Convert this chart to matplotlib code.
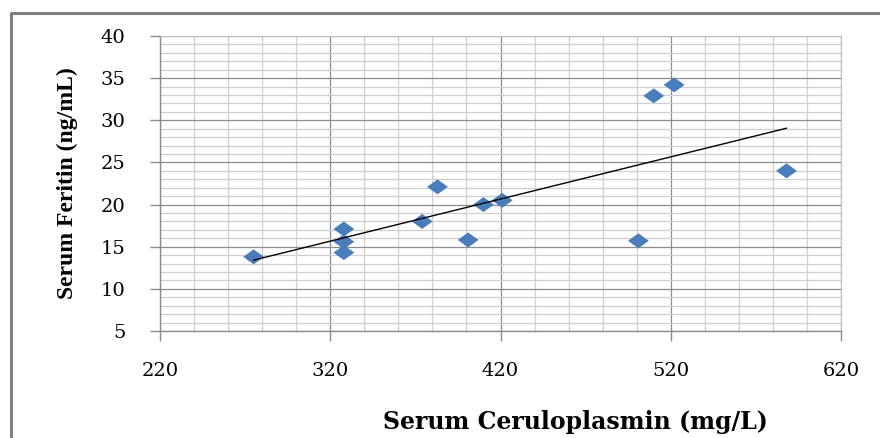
import numpy as np
import matplotlib.pyplot as plt
from matplotlib.lines import Line2D
from matplotlib.path import Path
from matplotlib.ticker import MultipleLocator

# serum ceruloplasmin (mg/L) vs serum ferritin (ng/mL)
ceruloplasmin = [275, 328, 328, 328, 374, 383, 401, 410, 421, 501, 510, 522, 588]
ferritin = [13.8, 17.1, 15.6, 14.3, 18.0, 22.1, 15.8, 20.0, 20.5, 15.7, 32.9, 34.2, 24.0]

x_ticks = [220, 320, 420, 520, 620]
y_ticks = [5, 10, 15, 20, 25, 30, 35, 40]

blue = '#4a7ebb'
tick_font = 'DejaVu Serif'
label_font = 'Liberation Serif'

# Excel-style wide diamond
diamond = Path([(-1, 0), (0, 0.72), (1, 0), (0, -0.72), (-1, 0)],
               [Path.MOVETO, Path.LINETO, Path.LINETO, Path.LINETO, Path.CLOSEPOLY])

fig = plt.figure(figsize=(8.8, 4.38), dpi=100)
ax = fig.add_axes([0.1818, 0.2443, 0.7739, 0.6735])

ax.set_xlim(220, 620)
ax.set_ylim(5, 40)
ax.xaxis.set_major_locator(MultipleLocator(100))
ax.xaxis.set_minor_locator(MultipleLocator(20))
ax.yaxis.set_major_locator(MultipleLocator(5))
ax.yaxis.set_minor_locator(MultipleLocator(1))

ax.grid(which='minor', color='#cfcfcf', lw=0.9, zorder=0)
ax.grid(which='major', color='#8c8c8c', lw=0.9, zorder=0)
ax.set_axisbelow(True)

for s in ['top', 'right']:
    ax.spines[s].set_color('#bdbdbd')
for s in ['left', 'bottom']:
    ax.spines[s].set_color('#8c8c8c')
    ax.spines[s].set_linewidth(1.0)

ax.tick_params(which='major', length=7, color='#8c8c8c', width=1.0)
ax.tick_params(which='minor', length=0)
ax.tick_params(axis='y', pad=18)
ax.tick_params(axis='x', pad=15)

ax.set_xticks(x_ticks)
ax.set_yticks(y_ticks)
ax.set_xticklabels([str(v) for v in x_ticks], fontsize=14, family=tick_font)
ax.set_yticklabels([str(v) for v in y_ticks], fontsize=14, family=tick_font)

ax.scatter(ceruloplasmin, ferritin, marker=diamond, s=15 ** 2, color=blue,
           edgecolors='none', zorder=3)

# linear trendline
k, b = np.polyfit(ceruloplasmin, ferritin, 1)
tx = np.array([min(ceruloplasmin), max(ceruloplasmin)])
ax.plot(tx, k * tx + b, color='black', lw=1.0, zorder=4)

ax.set_xlabel('Serum Ceruloplasmin (mg/L)', fontsize=17, fontweight='bold',
              family='DejaVu Serif')
ax.xaxis.label.set_va('center')
ax.xaxis.set_label_coords(0.61, -0.308)
ax.set_ylabel('Serum Feritin (ng/mL)', fontsize=17, fontweight='bold',
              family=label_font, labelpad=16)

# outer frame (top and left edges visible)
fig.add_artist(Line2D([11 / 880, 11 / 880, 1.0], [0.0, 1 - 13 / 438, 1 - 13 / 438],
                      transform=fig.transFigure, color='#7f7f7f', lw=2.2))

fig.savefig('out.png', dpi=100)
